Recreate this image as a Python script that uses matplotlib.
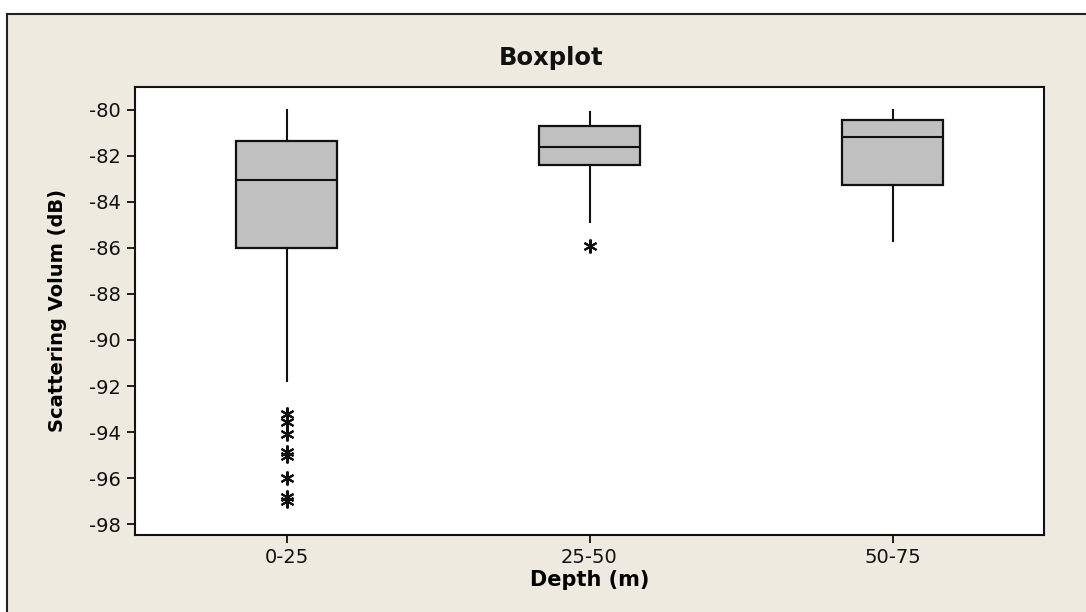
import matplotlib
matplotlib.use("Agg")
import matplotlib.pyplot as plt
from matplotlib.patches import Rectangle

# Depth classes and summary statistics of scattering volume (dB)
depths = ["0-25", "25-50", "50-75"]
whisker_high = [-80.0, -80.1, -80.03]
q3 = [-81.38, -80.70, -80.43]
median = [-83.04, -81.60, -81.19]
q1 = [-86.0, -82.42, -83.25]
whisker_low = [-91.8, -84.88, -85.72]
outliers = [
    [-93.2, -93.55, -94.1, -94.85, -95.05, -96.0, -96.8, -97.0],
    [-85.94],
    [],
]
y_ticks = list(range(-98, -79, 2))

panel_color = "#EEEAE0"
box_fill = "#C0C0C0"

fig = plt.figure(figsize=(10.86, 6.12), dpi=100)
fig.patch.set_facecolor("white")

W, H = 1086, 612
# Beige graph panel with a dark border on the top and left
panel = Rectangle((7 / W, 0), 1.0, 1 - 14 / H, transform=fig.transFigure,
                  facecolor=panel_color, edgecolor="none", zorder=-5)
fig.add_artist(panel)
fig.add_artist(plt.Line2D([7 / W, 7 / W], [0, 1 - 14 / H], transform=fig.transFigure,
                          color="#222222", lw=1.5, zorder=-4))
fig.add_artist(plt.Line2D([7 / W, 1.0], [1 - 14 / H, 1 - 14 / H], transform=fig.transFigure,
                          color="#222222", lw=1.5, zorder=-4))

ax = fig.add_axes([135 / W, 1 - 534.5 / H, (1044 - 135) / W, (534.5 - 86.7) / H])
ax.set_zorder(2)
ax.set_facecolor("white")

stats = []
for i, name in enumerate(depths):
    stats.append({
        "label": name,
        "whishi": whisker_high[i],
        "q3": q3[i],
        "med": median[i],
        "q1": q1[i],
        "whislo": whisker_low[i],
        "fliers": outliers[i],
    })

ax.bxp(
    stats,
    positions=[1, 2, 3],
    widths=0.333,
    patch_artist=True,
    showcaps=False,
    boxprops=dict(facecolor=box_fill, edgecolor="#111111", linewidth=1.6),
    medianprops=dict(color="#111111", linewidth=1.5),
    whiskerprops=dict(color="#111111", linewidth=1.5),
    flierprops=dict(marker=(6, 2, 0), markersize=10, markeredgewidth=1.5,
                    markeredgecolor="#111111", markerfacecolor="none", linestyle="none"),
)

ax.set_xlim(0.5, 3.5)
ax.set_ylim(-98.45, -79.0)
ax.set_yticks(y_ticks)
ax.set_yticklabels([str(v) for v in y_ticks])
ax.set_xticks([1, 2, 3])
ax.set_xticklabels(depths)

for s in ax.spines.values():
    s.set_linewidth(1.5)
    s.set_color("#111111")
ax.tick_params(axis="both", direction="out", length=6, width=1.3, color="#111111",
               labelsize=14, labelcolor="#111111", pad=4)
ax.tick_params(top=False, right=False)

ax.set_xlabel("Depth (m)", fontsize=15, fontweight="bold", labelpad=2)
ax.set_ylabel("Scattering Volum (dB)", fontsize=14, fontweight="bold", labelpad=16)

fig.text(551 / W, 1 - 58 / H, "Boxplot", ha="center", va="center",
         fontsize=17.5, fontweight="bold", color="#111111")

fig.savefig("out.png", dpi=100, facecolor=fig.get_facecolor())
